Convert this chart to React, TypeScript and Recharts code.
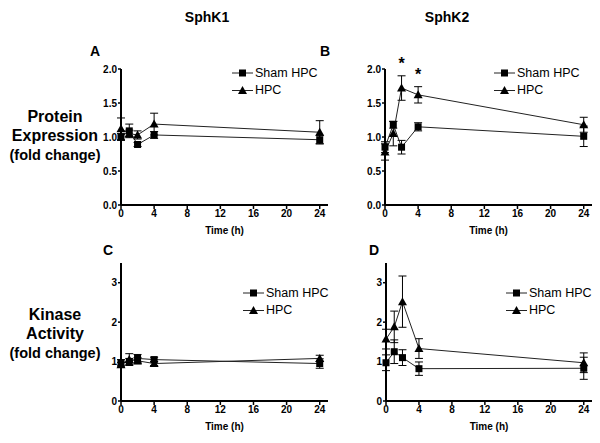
import { LineChart, Line, XAxis, YAxis, ErrorBar } from "recharts";

const FONT = "'Liberation Sans', Arial, Helvetica, sans-serif";

const hours = [0, 1, 2, 4, 24];
const timeTicks = [0, 4, 8, 12, 16, 20, 24];
const protTicks = [0, 0.5, 1, 1.5, 2];
const kinTicks = [0, 1, 2, 3];

// SphK1 protein expression (A)
const k1ProtSham = [1.0, 1.09, 0.89, 1.03, 0.96];
const k1ProtShamErr = [0.05, 0.1, 0.03, 0.05, 0.06];
const k1ProtHpc = [1.12, 1.05, 1.03, 1.19, 1.07];
const k1ProtHpcErr = [0.16, 0.05, 0.06, 0.16, 0.17];

// SphK2 protein expression (B)
const k2ProtSham = [0.85, 1.18, 0.85, 1.15, 1.01];
const k2ProtShamErr = [0.08, 0.05, 0.1, 0.06, 0.15];
const k2ProtHpc = [0.78, 1.05, 1.72, 1.62, 1.18];
const k2ProtHpcErr = [0.12, 0.18, 0.18, 0.12, 0.11];
const k2ProtSig = [false, false, true, true, false];

// SphK1 kinase activity (C)
const k1KinSham = [0.97, 1.0, 1.08, 1.05, 0.95];
const k1KinShamErr = [0.08, 0.08, 0.1, 0.06, 0.12];
const k1KinHpc = [0.92, 1.05, 1.02, 0.95, 1.08];
const k1KinHpcErr = [0.06, 0.15, 0.08, 0.05, 0.08];

// SphK2 kinase activity (D)
const k2KinSham = [0.97, 1.25, 1.1, 0.82, 0.83];
const k2KinShamErr = [0.2, 0.3, 0.2, 0.17, 0.28];
const k2KinHpc = [1.57, 1.88, 2.52, 1.33, 0.97];
const k2KinHpcErr = [0.25, 0.4, 0.65, 0.25, 0.25];

const noSig = [false, false, false, false, false];

function rows(s: number[], se: number[], h: number[], he: number[], sig: boolean[]) {
  return hours.map((t, i) => ({
    t,
    sham: s[i],
    shamErr: se[i],
    hpc: h[i],
    hpcErr: he[i],
    star: sig[i] ? h[i] + he[i] : null,
  }));
}

const SquareDot = (p: any) => (
  <rect key={`s${p.index}`} x={p.cx - 3.5} y={p.cy - 3.5} width={7} height={7} fill="#000" />
);

const TriDot = (p: any) => (
  <path
    key={`t${p.index}`}
    d={`M${p.cx},${p.cy - 4.5} L${p.cx + 4.5},${p.cy + 3.5} L${p.cx - 4.5},${p.cy + 3.5} Z`}
    fill="#000"
  />
);

// asterisk drawn just above the top of the HPC error bar
const StarDot = (p: any) =>
  p.value == null || p.cy == null ? (
    <g key={`a${p.index}`} />
  ) : (
    <text
      key={`a${p.index}`}
      x={p.cx}
      y={p.cy - 7}
      textAnchor="middle"
      fontSize={16}
      fontWeight="bold"
      fontFamily={FONT}
      fill="#000"
    >
      *
    </text>
  );

type PanelProps = {
  left: number;
  top: number;
  width: number;
  height: number;
  marginTop: number;
  data: ReturnType<typeof rows>;
  yMax: number;
  yTicks: number[];
  decimals: number;
};

function Panel({ left, top, width, height, marginTop, data, yMax, yTicks, decimals }: PanelProps) {
  const tick = { fill: "#000", fontSize: 10, fontWeight: "bold", fontFamily: FONT };
  return (
    <div style={{ position: "absolute", left, top }}>
      <LineChart width={width} height={height} data={data} margin={{ top: marginTop, right: 8, left: 0, bottom: 0 }}>
        <XAxis
          dataKey="t"
          type="number"
          domain={[0, 25]}
          ticks={timeTicks}
          tick={tick}
          tickSize={4}
          tickMargin={1}
          height={35}
          axisLine={{ stroke: "#000", strokeWidth: 2 }}
          tickLine={{ stroke: "#000", strokeWidth: 1.5 }}
          label={{
            value: "Time (h)",
            position: "insideBottom",
            offset: 6,
            style: { fill: "#000", fontSize: 10, fontWeight: "bold", fontFamily: FONT },
          }}
        />
        <YAxis
          type="number"
          domain={[0, yMax]}
          ticks={yTicks}
          tickFormatter={(v: number) => v.toFixed(decimals)}
          tick={tick}
          tickSize={3}
          tickMargin={1}
          width={51}
          axisLine={{ stroke: "#000", strokeWidth: 2 }}
          tickLine={{ stroke: "#000", strokeWidth: 1.5 }}
        />
        <Line dataKey="sham" stroke="#222" strokeWidth={1} dot={SquareDot} isAnimationActive={false}>
          <ErrorBar dataKey="shamErr" direction="y" width={4} stroke="#000" strokeWidth={1} />
        </Line>
        <Line dataKey="hpc" stroke="#222" strokeWidth={1} dot={TriDot} isAnimationActive={false}>
          <ErrorBar dataKey="hpcErr" direction="y" width={4} stroke="#000" strokeWidth={1} />
        </Line>
        <Line dataKey="star" stroke="none" dot={StarDot} activeDot={false} isAnimationActive={false} />
      </LineChart>
    </div>
  );
}

function LegendBox({ left, top }: { left: number; top: number }) {
  const row = { display: "flex", alignItems: "center", height: 17 } as const;
  return (
    <div style={{ position: "absolute", left, top, fontFamily: FONT, fontSize: 12.5, color: "#000" }}>
      <div style={row}>
        <svg width={21} height={10} style={{ marginRight: 2 }}>
          <line x1={0} y1={5} x2={21} y2={5} stroke="#222" />
          <rect x={7} y={1.5} width={7} height={7} fill="#000" />
        </svg>
        <span>Sham HPC</span>
      </div>
      <div style={row}>
        <svg width={21} height={10} style={{ marginRight: 2 }}>
          <line x1={0} y1={5.5} x2={21} y2={5.5} stroke="#222" />
          <path d="M10.5,1 L15,9 L6,9 Z" fill="#000" />
        </svg>
        <span>HPC</span>
      </div>
    </div>
  );
}

function Txt({ x, y, size, children }: { x: number; y: number; size: number; children: string }) {
  return (
    <div
      style={{
        position: "absolute",
        left: x,
        top: y,
        transform: "translate(-50%, -50%)",
        fontFamily: FONT,
        fontWeight: "bold",
        fontSize: size,
        whiteSpace: "nowrap",
        color: "#000",
        lineHeight: 1,
      }}
    >
      {children}
    </div>
  );
}

export default function App() {
  return (
    <div style={{ position: "absolute", left: 0, top: 0, width: 600, height: 443, background: "#fff", overflow: "hidden" }}>
      <Txt x={207} y={17} size={14}>SphK1</Txt>
      <Txt x={447} y={17} size={14}>SphK2</Txt>
      <Txt x={95} y={51} size={14}>A</Txt>
      <Txt x={325} y={51} size={14}>B</Txt>
      <Txt x={108} y={250} size={14}>C</Txt>
      <Txt x={374} y={250} size={14}>D</Txt>

      <Txt x={55} y={117} size={16}>Protein</Txt>
      <Txt x={55} y={136} size={16}>Expression</Txt>
      <Txt x={55} y={155} size={14.5}>(fold change)</Txt>
      <Txt x={55} y={315} size={16}>Kinase</Txt>
      <Txt x={55} y={334} size={16}>Activity</Txt>
      <Txt x={55} y={353} size={14.5}>(fold change)</Txt>

      <Panel left={70} top={55} width={266} height={185} marginTop={14}
        data={rows(k1ProtSham, k1ProtShamErr, k1ProtHpc, k1ProtHpcErr, noSig)}
        yMax={2} yTicks={protTicks} decimals={1} />
      <Panel left={334} top={55} width={266} height={185} marginTop={14}
        data={rows(k2ProtSham, k2ProtShamErr, k2ProtHpc, k2ProtHpcErr, k2ProtSig)}
        yMax={2} yTicks={protTicks} decimals={1} />
      <Panel left={70} top={250} width={266} height={186} marginTop={13}
        data={rows(k1KinSham, k1KinShamErr, k1KinHpc, k1KinHpcErr, noSig)}
        yMax={3.5} yTicks={kinTicks} decimals={0} />
      <Panel left={335} top={250} width={265} height={186} marginTop={13}
        data={rows(k2KinSham, k2KinShamErr, k2KinHpc, k2KinHpcErr, noSig)}
        yMax={3.5} yTicks={kinTicks} decimals={0} />

      <LegendBox left={232} top={64} />
      <LegendBox left={494} top={64} />
      <LegendBox left={243} top={284} />
      <LegendBox left={506} top={284} />
    </div>
  );
}
